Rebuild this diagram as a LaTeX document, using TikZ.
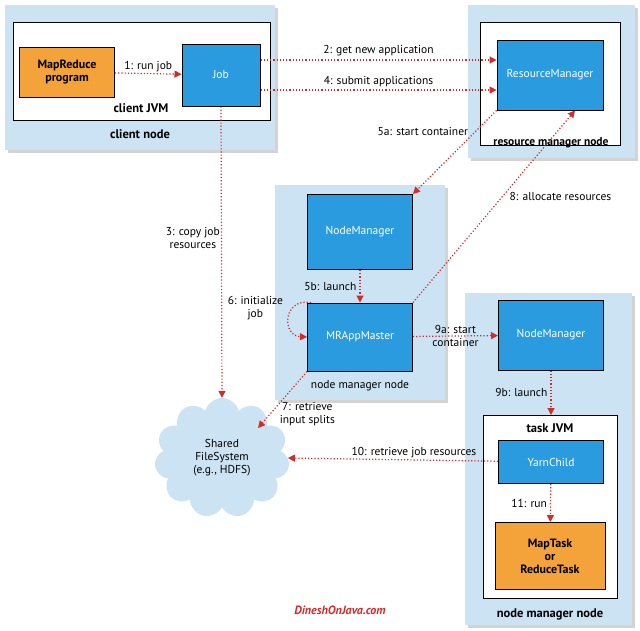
\documentclass[tikz,border=0pt]{standalone}
\usepackage{fontspec}
\setmainfont{PT Sans}
\usetikzlibrary{shadows,shapes.symbols,arrows.meta}
\definecolor{hostblue}{HTML}{CBE3F3}
\definecolor{procblue}{HTML}{2A9BDF}
\definecolor{progorange}{HTML}{F3A33A}
\definecolor{flowred}{HTML}{D42A2A}
\tikzset{
  every node/.style={font=\fontsize{11.5}{13}\selectfont},
  host/.style={fill=hostblue, draw=none, drop shadow={opacity=0.35}},
  jvm/.style={fill=white, draw=black, line width=1pt},
  proc/.style={fill=procblue, draw=black, line width=1pt, text=white},
  prog/.style={fill=progorange, draw=black, line width=1pt, font=\fontsize{12}{13}\selectfont\bfseries, align=center},
  flow/.style={draw=flowred, line width=1.2pt, dotted, -{Triangle[length=7pt,width=7pt]}},
  lbl/.style={text=black, align=center, inner sep=1pt},
  hostlbl/.style={font=\fontsize{12.5}{14}\selectfont\bfseries}
}
\begin{document}
\begin{tikzpicture}[x=1pt,y=-1pt]
            \useasboundingbox (0,0) rectangle (640,630);

            % hosts
            \fill[host] (5,5) rectangle (275,150);
            \fill[host] (468,5) rectangle (635,158);
            \fill[host] (275,185) rectangle (445,400);
            \fill[host] (465,293) rectangle (632,625);

            % jvms
            \draw[jvm] (13,22) rectangle (270,120);
            \draw[jvm] (480,22) rectangle (620,145);
            \draw[jvm] (483,415) rectangle (617,598);

            % processes
            \node[prog, minimum width=95pt, minimum height=50pt] (prog) at (67,72) {MapReduce\\program};
            \node[proc, minimum width=78pt, minimum height=62pt] (job) at (221,75) {Job};
            \node[proc, minimum width=106pt, minimum height=70pt] (rm) at (550,75) {ResourceManager};
            \node[proc, minimum width=105pt, minimum height=75pt] (nm) at (360,232) {NodeManager};
            \node[proc, minimum width=105pt, minimum height=68pt] (mr) at (360,337) {MRAppMaster};
            \node[proc, minimum width=105pt, minimum height=70pt] (nmb) at (551,335) {NodeManager};
            \node[proc, minimum width=105pt, minimum height=43pt] (yc) at (551,462) {YarnChild};
            \node[prog, minimum width=110pt, minimum height=67pt] (task) at (550,556) {MapTask\\or\\ReduceTask};
            \node[cloud, cloud puffs=11, aspect=1.1, fill=hostblue, draw=none, minimum width=135pt, minimum height=120pt,
                  align=center] (fs) at (222,458) {Shared\\FileSystem\\(e.g., HDFS)};
            \coordinate (jvmtop) at (551,415);
            \coordinate (fsin) at (258,428);

            % host labels
            \node[hostlbl] at (141,108) {client JVM};
            \node[hostlbl] at (140,134) {client node};
            \node[hostlbl, font=\fontsize{11.5}{13}\selectfont\bfseries] at (551,143) {resource manager node};
            \node at (360,386) {node manager node};
            \node[hostlbl] at (550,428) {task JVM};
            \node[hostlbl] at (550,614) {node manager node};

            % flows
            \draw[flow] (prog) -- node[lbl, above] {1: run job} (job);
            \draw[flow] ([yshift=15pt]job.east) -- node[lbl, above=2pt] {2: get new application} ([yshift=15pt]rm.west);
            \draw[flow] ([yshift=-15pt]job.east) -- node[lbl, above=2pt] {4: submit applications} ([yshift=-15pt]rm.west);
            \draw[flow] (job.south) -- node[lbl, left, pos=0.45] {3: copy job\\resources} (fs.north);
            \draw[flow] (rm.south west) -- node[lbl, left=6pt, pos=0.25] {5a: start container} (nm.north east);
            \draw[flow] (mr.north east) -- node[lbl, right=6pt, pos=0.55] {8: allocate resources} ([xshift=25pt]rm.south);
            \draw[flow] (nm) -- node[lbl, left=2pt] {5b: launch} (mr);
            \draw[flow] ([xshift=4pt]mr.north west) .. controls (282,298) and (282,336) .. (mr.west)
                node[lbl, pos=0.3, left=8pt] {6: initialize\\job};
            \draw[flow] (mr) -- node[lbl] {9a: start\\container} (nmb);
            \draw[flow] (mr.south west) -- node[lbl, right=8pt, pos=0.75] {7: retrieve\\input splits} (fsin);
            \draw[flow] (nmb) -- node[lbl, left=2pt] {9b: launch} (jvmtop);
            \draw[flow] (yc) -- node[lbl, above, pos=0.4] {10: retrieve job resources} (fs.east);
            \draw[flow] (yc) -- node[lbl, left=2pt] {11: run} (task);

            \node[text=flowred, font=\fontsize{12}{13}\selectfont\bfseries\itshape] at (340,610) {DineshOnJava.com};
        \end{tikzpicture}
\end{document}
